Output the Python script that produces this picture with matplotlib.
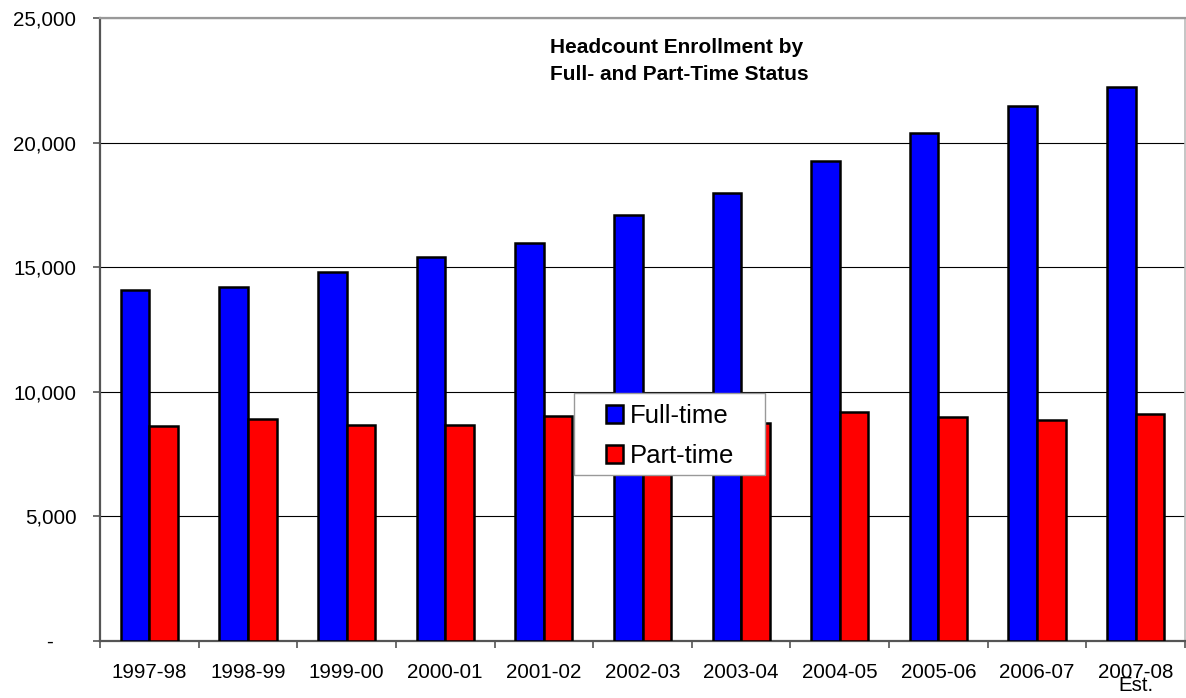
import numpy as np
import matplotlib
matplotlib.use("Agg")
from matplotlib import pyplot as plt
from matplotlib.patches import Rectangle
from matplotlib.ticker import FuncFormatter

plt.rcParams['font.family'] = ['Liberation Sans', 'DejaVu Sans']

# data
years = ["1997-98", "1998-99", "1999-00", "2000-01", "2001-02", "2002-03",
         "2003-04", "2004-05", "2005-06", "2006-07", "2007-08\nEst."]
full_time = [14070, 14190, 14810, 15410, 15950, 17110, 17990, 19250, 20370, 21460, 22230]
part_time = [8600, 8920, 8640, 8640, 9020, 8850, 8750, 9190, 8980, 8880, 9120]

W, H = 1186, 698
fig = plt.figure(figsize=(W / 100, H / 100), dpi=100)
# plot area in pixels: x 100..1185, y 18..640.7
ax = fig.add_axes([100 / W, 1 - 640.7 / H, 1085 / W, (640.7 - 18) / H])

x = np.arange(len(years))
bw = 0.29
ax.bar(x - bw / 2, full_time, bw, color="#0000FF", edgecolor="black", linewidth=1.8,
       label="Full-time", zorder=3)
ax.bar(x + bw / 2, part_time, bw, color="#FF0000", edgecolor="black", linewidth=1.8,
       label="Part-time", zorder=3)

ax.set_xlim(-0.5, len(years) - 0.5)
ax.set_ylim(0, 25000)
ax.set_yticks(np.arange(0, 25001, 5000))
ax.yaxis.set_major_formatter(FuncFormatter(lambda v, p: "-    " if v == 0 else f"{v:,.0f}"))
ax.grid(axis="y", color="black", linewidth=0.8, zorder=0)
ax.set_axisbelow(True)

# ticks at category boundaries, labels at centres
ax.set_xticks(np.arange(-0.5, len(years), 1.0))
ax.set_xticklabels([])
ax.set_xticks(x, minor=True)
ax.set_xticklabels(years, minor=True)
for t in ax.get_xticklabels(minor=True):
    t.set_linespacing(0.62)
ax.tick_params(axis="x", which="major", direction="out", length=5, width=1.2, color="#555555")
ax.tick_params(axis="x", which="minor", length=0, pad=16, labelsize=14.8)
ax.tick_params(axis="y", direction="out", length=5, width=1.2, color="#555555",
               pad=12, labelsize=14.8)

for s in ["left", "bottom"]:
    ax.spines[s].set_color("#555555")
    ax.spines[s].set_linewidth(1.6)
ax.spines["top"].set_color("#999999")
ax.spines["top"].set_linewidth(1.6)
ax.spines["right"].set_color("#bbbbbb")
ax.spines["right"].set_linewidth(1.2)

# title inside plot
fig.text(550 / W, 1 - 38 / H, "Headcount Enrollment by\nFull- and Part-Time Status",
         ha="left", va="top", fontsize=15, fontweight="bold", linespacing=1.55)

# legend box
ax.add_patch(Rectangle(((573.7 - 100) / 1085, (640.7 - 474.7) / 622.7), 191 / 1085, 82 / 622.7,
                       transform=ax.transAxes, facecolor="white", edgecolor="#999999",
                       linewidth=1.0, zorder=4.5))
leg = ax.legend(loc="upper left", bbox_to_anchor=((605.7 - 100) / 1085, (640.7 - 404) / 622.7),
                frameon=False, fontsize=18.5, borderpad=0, borderaxespad=0,
                handlelength=0.68, handleheight=0.68, handletextpad=0.25, labelspacing=0.63)
leg.set_zorder(5)

fig.savefig("out.png", dpi=100)
